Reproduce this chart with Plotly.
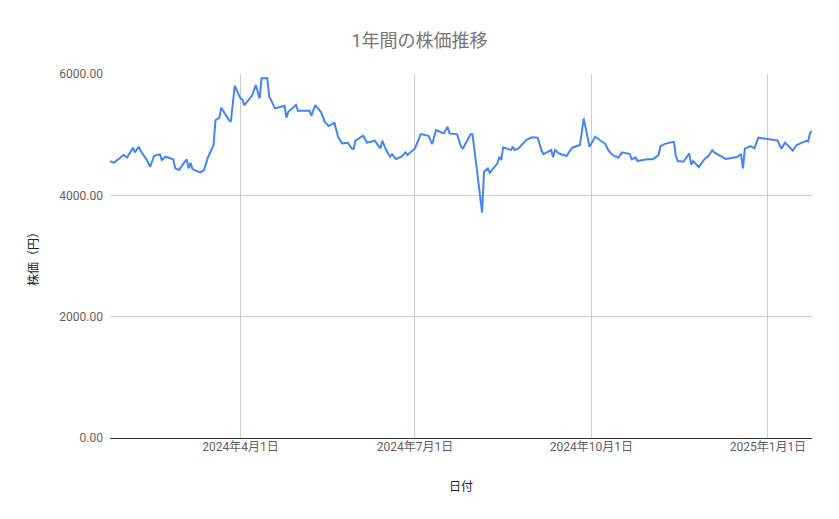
import plotly.graph_objects as go

# 日付と株価
dates = [
    "2024-01-24", "2024-01-26", "2024-01-29", "2024-01-31", "2024-02-02",
    "2024-02-05", "2024-02-06", "2024-02-08", "2024-02-09", "2024-02-12",
    "2024-02-14", "2024-02-16", "2024-02-19", "2024-02-20", "2024-02-22",
    "2024-02-26", "2024-02-27", "2024-02-29", "2024-03-02", "2024-03-04",
    "2024-03-05", "2024-03-06", "2024-03-07", "2024-03-11", "2024-03-13",
    "2024-03-15", "2024-03-18", "2024-03-19", "2024-03-21", "2024-03-22",
    "2024-03-26", "2024-03-27", "2024-03-28", "2024-03-29", "2024-04-01",
    "2024-04-02", "2024-04-03", "2024-04-05", "2024-04-07", "2024-04-09",
    "2024-04-11", "2024-04-12", "2024-04-15", "2024-04-16", "2024-04-17",
    "2024-04-19", "2024-04-22", "2024-04-24", "2024-04-25", "2024-04-26",
    "2024-04-30", "2024-05-01", "2024-05-07", "2024-05-08", "2024-05-10",
    "2024-05-13", "2024-05-15", "2024-05-17", "2024-05-20", "2024-05-22",
    "2024-05-24", "2024-05-27", "2024-05-29", "2024-05-30", "2024-05-31",
    "2024-06-04", "2024-06-06", "2024-06-10", "2024-06-13", "2024-06-14",
    "2024-06-16", "2024-06-18", "2024-06-19", "2024-06-21", "2024-06-24",
    "2024-06-26", "2024-06-27", "2024-07-01", "2024-07-04", "2024-07-08",
    "2024-07-10", "2024-07-12", "2024-07-16", "2024-07-18", "2024-07-19",
    "2024-07-23", "2024-07-25", "2024-07-26", "2024-07-30", "2024-07-31",
    "2024-08-02", "2024-08-05", "2024-08-06", "2024-08-08", "2024-08-09",
    "2024-08-13", "2024-08-14", "2024-08-15", "2024-08-16", "2024-08-20",
    "2024-08-21", "2024-08-22", "2024-08-24", "2024-08-27", "2024-08-28",
    "2024-08-31", "2024-09-03", "2024-09-05", "2024-09-06", "2024-09-10",
    "2024-09-11", "2024-09-12", "2024-09-14", "2024-09-18", "2024-09-20",
    "2024-09-21", "2024-09-25", "2024-09-27", "2024-09-30", "2024-10-03",
    "2024-10-06", "2024-10-08", "2024-10-10", "2024-10-12", "2024-10-15",
    "2024-10-17", "2024-10-21", "2024-10-22", "2024-10-24", "2024-10-25",
    "2024-10-30", "2024-11-02", "2024-11-05", "2024-11-06", "2024-11-08",
    "2024-11-11", "2024-11-13", "2024-11-14", "2024-11-15", "2024-11-18",
    "2024-11-21", "2024-11-22", "2024-11-23", "2024-11-26", "2024-11-29",
    "2024-12-01", "2024-12-03", "2024-12-04", "2024-12-10", "2024-12-16",
    "2024-12-18", "2024-12-19", "2024-12-20", "2024-12-23", "2024-12-25",
    "2024-12-27", "2024-12-31", "2025-01-06", "2025-01-08", "2025-01-10",
    "2025-01-14", "2025-01-16", "2025-01-18", "2025-01-21", "2025-01-22",
    "2025-01-23", "2025-01-24",
]
prices = [
    4565, 4537, 4610, 4664, 4626,
    4785, 4708, 4801, 4730, 4593,
    4471, 4652, 4675, 4581, 4636,
    4593, 4444, 4417, 4511, 4593,
    4444, 4537, 4433, 4378, 4417,
    4620, 4829, 5241, 5279, 5443,
    5241, 5213, 5500, 5806, 5598,
    5582, 5488, 5570, 5641, 5817,
    5598, 5928, 5928, 5625, 5570,
    5433, 5460, 5477, 5279, 5378,
    5488, 5394, 5394, 5312, 5488,
    5372, 5210, 5142, 5197, 4956,
    4857, 4867, 4774, 4763, 4900,
    4982, 4867, 4900, 4774, 4900,
    4746, 4636, 4680, 4598, 4636,
    4708, 4664, 4774, 5010, 4982,
    4845, 5076, 5021, 5131, 5021,
    5005, 4801, 4774, 5005, 5005,
    4499, 3713, 4389, 4444, 4372,
    4527, 4636, 4581, 4791, 4746,
    4801, 4746, 4774, 4885, 4911,
    4956, 4950, 4735, 4680, 4746,
    4626, 4746, 4692, 4648, 4746,
    4785, 4829, 5268, 4801, 4966,
    4895, 4857, 4735, 4664, 4620,
    4708, 4680, 4593, 4626, 4565,
    4593, 4593, 4664, 4812, 4845,
    4867, 4885, 4650, 4565, 4554,
    4692, 4505, 4565, 4465, 4600,
    4648, 4746, 4708, 4600, 4630,
    4680, 4444, 4770, 4812, 4774,
    4950, 4935, 4905, 4770, 4870,
    4735, 4829, 4857, 4900, 4890,
    5032, 5060,
]

y_ticks = [0, 2000, 4000, 6000]
x_ticks = ["2024-04-01", "2024-07-01", "2024-10-01", "2025-01-01"]
x_labels = ["2024年4月1日", "2024年7月1日", "2024年10月1日", "2025年1月1日"]

font = "Roboto, Noto Sans CJK JP, sans-serif"

fig = go.Figure()
fig.add_trace(go.Scatter(
    x=dates,
    y=prices,
    mode="lines",
    line=dict(color="#4285F4", width=2),
    showlegend=False,
))

fig.update_layout(
    width=839,
    height=519,
    paper_bgcolor="white",
    plot_bgcolor="white",
    margin=dict(l=110, r=27, t=74, b=81),
    font=dict(family=font, color="#444444", size=12),
    title=dict(
        text="1年間の株価推移",
        x=0.5,
        xanchor="center",
        y=0.922,
        yanchor="middle",
        font=dict(family=font, size=18, color="#757575"),
    ),
)

fig.update_xaxes(
    range=[dates[0], dates[-1]],
    tickvals=x_ticks,
    ticktext=x_labels,
    showgrid=True,
    gridcolor="#cccccc",
    gridwidth=1,
    zeroline=False,
    showline=False,
    ticks="",
    tickfont=dict(size=12, color="#5f5f5f"),
    title=dict(text="日付", standoff=29, font=dict(size=12, color="#222222")),
)

fig.update_yaxes(
    range=[0, 6000],
    tickvals=y_ticks,
    tickformat=".2f",
    showgrid=True,
    gridcolor="#cccccc",
    gridwidth=1,
    zeroline=True,
    zerolinecolor="#333333",
    zerolinewidth=1,
    showline=False,
    ticks="",
    ticklabelstandoff=6,
    tickfont=dict(size=12, color="#5f5f5f"),
    title=dict(text="株価（円）", standoff=18, font=dict(size=12, color="#222222")),
)

# ページ余白をなくして 839x519 にぴったり合わせる
fig.write_html(
    "out.html",
    config={"displayModeBar": False},
    post_script="document.body.style.margin='0';",
)
